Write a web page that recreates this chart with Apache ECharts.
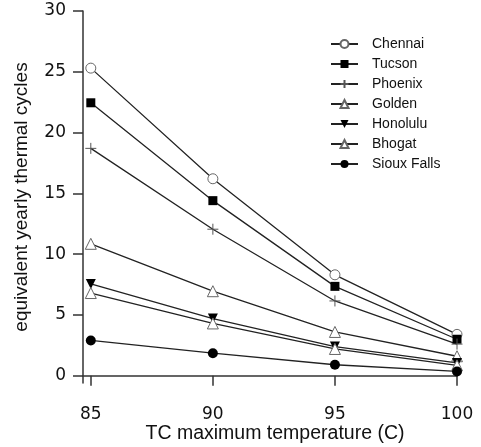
<!DOCTYPE html>
<html>
<head>
<meta charset="utf-8">
<script src="https://cdn.jsdelivr.net/npm/echarts@6/dist/echarts.min.js"></script>
<style>html,body{margin:0;padding:0;background:#fff}#c{width:481px;height:447px}</style>
</head>
<body>
<div id="c"></div>
<script>
const temps = [85, 90, 95, 100];
const xTicks = [85, 90, 95, 100];
const yTicks = [0, 5, 10, 15, 20, 25, 30];
const chennai = [25.3, 16.2, 8.3, 3.4];
const tucson = [22.45, 14.4, 7.35, 3.0];
const phoenix = [18.7, 12.05, 6.15, 2.6];
const golden = [10.85, 6.95, 3.6, 1.6];
const honolulu = [7.55, 4.7, 2.4, 1.05];
const bhogat = [6.8, 4.3, 2.2, 0.85];
const siouxFalls = [2.9, 1.85, 0.9, 0.35];

const pair = arr => arr.map((v, i) => [temps[i], v]);
const hollow = {color: '#fff', borderColor: '#666', borderWidth: 1};
const solid = {color: '#000', borderColor: '#000', borderWidth: 0};
const lineStyle = {color: '#222', width: 1.3};
function s(name, data, symbol, size, itemStyle, extra) {
  return Object.assign({
    name, type: 'line', data: pair(data), symbol, symbolSize: size,
    showAllSymbol: true, itemStyle, lineStyle, z: 2, animation: false
  }, extra || {});
}
const chart = echarts.init(document.getElementById('c'));
chart.setOption({
  animation: false,
  grid: {left: 83, right: 24, top: 11, bottom: 64, containLabel: false, outerBoundsMode: 'none'},
  legend: {
    left: 325, top: 32, orient: 'vertical',
    itemWidth: 27, itemHeight: 10, itemGap: 6,
    textStyle: {fontFamily: 'Liberation Sans', fontSize: 14, color: '#111', lineHeight: 14, padding: [0, 0, 0, 9]},
    data: ['Chennai', 'Tucson', 'Phoenix', 'Golden', 'Honolulu', 'Bhogat', 'Sioux Falls']
  },
  xAxis: {
    type: 'value', min: 84.68, max: 100,
    name: 'TC maximum temperature (C)', nameLocation: 'middle', nameGap: 41, nameMoveOverlap: false,
    nameTextStyle: {fontFamily: 'Liberation Sans', fontSize: 19.5, color: '#111', padding: [0, 0, 0, 10]},
    axisLine: {show: true, lineStyle: {color: '#333', width: 1.5}},
    axisTick: {show: true, length: 10, lineStyle: {color: '#333', width: 1.5}, customValues: xTicks},
    axisLabel: {fontFamily: 'DejaVu Sans', fontSize: 17, color: '#111', margin: 23, customValues: xTicks},
    splitLine: {show: false}
  },
  yAxis: {
    type: 'value', min: -0.6, max: 30,
    name: 'equivalent yearly thermal cycles', nameLocation: 'middle', nameGap: 52, nameRotate: 90, nameMoveOverlap: false,
    nameTextStyle: {fontFamily: 'Liberation Sans', fontSize: 19, color: '#111'},
    axisLine: {show: true, lineStyle: {color: '#333', width: 1.5}},
    axisTick: {show: true, length: 10, lineStyle: {color: '#333', width: 1.5}, customValues: yTicks},
    axisLabel: {fontFamily: 'DejaVu Sans', fontSize: 17, color: '#111', margin: 17, customValues: yTicks},
    splitLine: {show: false}
  },
  series: [
    s('Chennai', chennai, 'circle', 10, hollow),
    s('Tucson', tucson, 'rect', 9, solid),
    s('Phoenix', phoenix, 'path://M0,5L10,5M5,0L5,10', 11, {color: 'none', borderColor: '#555', borderWidth: 1}),
    s('Golden', golden, 'triangle', 11, hollow),
    s('Honolulu', honolulu, 'triangle', 10, solid, {symbolRotate: 180}),
    s('Bhogat', bhogat, 'triangle', 11, hollow),
    s('Sioux Falls', siouxFalls, 'circle', 10, solid)
  ]
});
</script>
</body>
</html>
